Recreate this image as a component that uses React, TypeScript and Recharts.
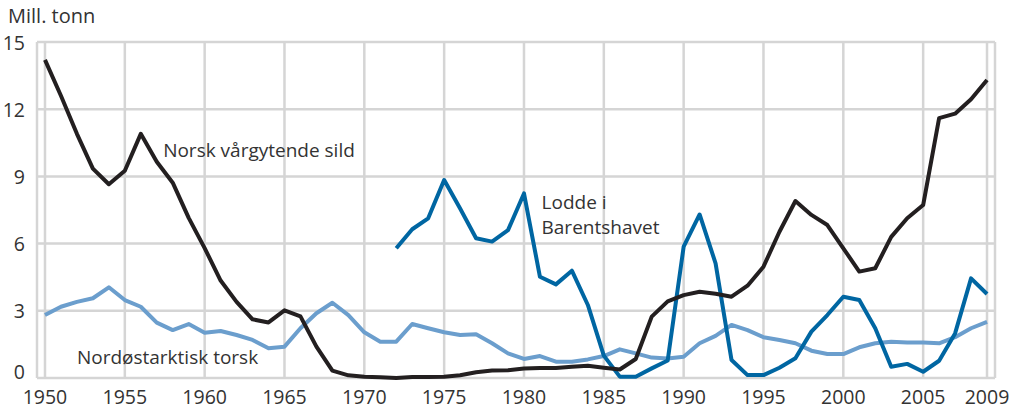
import React from 'react';
import { LineChart, Line, XAxis, YAxis, CartesianGrid, ReferenceDot } from 'recharts';

const years: number[] = [];
for (let y = 1950; y <= 2009; y++) years.push(y);

const sild = [
  14.2, 12.6, 10.9, 9.35, 8.65, 9.25, 10.9, 9.65, 8.72, 7.15,
  5.8, 4.35, 3.4, 2.62, 2.48, 3.02, 2.75, 1.4, 0.33, 0.12,
  0.06, 0.03, 0.0, 0.04, 0.05, 0.06, 0.12, 0.26, 0.33, 0.35,
  0.42, 0.45, 0.45, 0.5, 0.55, 0.46, 0.38, 0.85, 2.74, 3.42,
  3.7, 3.85, 3.76, 3.63, 4.12, 4.97, 6.53, 7.9, 7.28, 6.83,
  5.79, 4.75, 4.9, 6.3, 7.13, 7.72, 11.6, 11.8, 12.44, 13.3,
];

const lodde: (number | null)[] = [
  null, null, null, null, null, null, null, null, null, null,
  null, null, null, null, null, null, null, null, null, null,
  null, null, 5.79, 6.64, 7.13, 8.84, 7.57, 6.24, 6.09, 6.6,
  8.24, 4.52, 4.18, 4.79, 3.26, 1.0, 0.06, 0.06, 0.43, 0.78,
  5.86, 7.3, 5.12, 0.8, 0.13, 0.13, 0.46, 0.88, 2.07, 2.81,
  3.63, 3.48, 2.22, 0.5, 0.63, 0.28, 0.77, 1.99, 4.45, 3.75,
];

const torsk = [
  2.81, 3.18, 3.4, 3.56, 4.05, 3.48, 3.18, 2.47, 2.14, 2.41,
  2.02, 2.1, 1.92, 1.7, 1.33, 1.4, 2.22, 2.89, 3.36, 2.81,
  2.04, 1.62, 1.62, 2.41, 2.22, 2.04, 1.92, 1.95, 1.55, 1.1,
  0.85, 0.98, 0.73, 0.73, 0.83, 0.98, 1.28, 1.1, 0.91, 0.87,
  0.95, 1.55, 1.88, 2.37, 2.14, 1.82, 1.7, 1.55, 1.22, 1.07,
  1.07, 1.37, 1.55, 1.62, 1.59, 1.59, 1.55, 1.82, 2.22, 2.51,
];

const xTicks = [1950, 1955, 1960, 1965, 1970, 1975, 1980, 1985, 1990, 1995, 2000, 2005, 2009];
const yTicks = [0, 3, 6, 9, 12, 15];

const seriesLabels = [
  { text: 'Norsk vårgytende sild', year: 1957.4, value: 10.18 },
  { text: 'Lodde i', year: 1981.1, value: 7.86 },
  { text: 'Barentshavet', year: 1981.1, value: 6.74 },
  { text: 'Nordøstarktisk torsk', year: 1952.0, value: 0.94 },
];

const data = years.map((year, i) => ({ year, sild: sild[i], lodde: lodde[i], torsk: torsk[i] }));

const FONT = '"Open Sans", sans-serif';
const TEXT = '#333333';
const TICK_SIZE = 19.5;
const LABEL_SIZE = 19;

const YTick = (props: any) => {
  const { x, y, payload } = props;
  const dy = payload.value === 0 ? -7 : 0;
  return (
    <text x={x} y={y + dy} textAnchor="end" dominantBaseline="central" fill={TEXT} fontSize={TICK_SIZE} fontFamily={FONT}>
      {payload.value}
    </text>
  );
};

const XTick = (props: any) => {
  const { x, y, payload } = props;
  return (
    <text x={x} y={y + 12.5} textAnchor="middle" fill={TEXT} fontSize={TICK_SIZE} fontFamily={FONT}>
      {payload.value}
    </text>
  );
};

export default function App() {
  return (
    <div style={{ position: 'absolute', left: 0, top: 0, width: 1022, height: 408, background: '#fff', fontFamily: FONT }}>
      <div style={{ position: 'absolute', left: 8, top: 2, fontSize: 20, color: TEXT, fontFamily: FONT, whiteSpace: 'nowrap' }}>Mill. tonn</div>
      <LineChart width={1022} height={408} data={data} margin={{ top: 42, right: 27, bottom: 0, left: 0 }}>
        <CartesianGrid stroke="#d5d5d5" strokeWidth={2.5} />
        <XAxis
          dataKey="year"
          type="number"
          domain={[1949.5, 2009.5]}
          ticks={xTicks}
          interval={0}
          axisLine={false}
          tickLine={false}
          tickMargin={7}
          height={30}
          tick={<XTick />}
        />
        <YAxis
          type="number"
          domain={[0, 15]}
          ticks={yTicks}
          interval={0}
          axisLine={false}
          tickLine={false}
          tickMargin={6}
          width={37}
          tick={<YTick />}
        />
        <Line dataKey="torsk" stroke="#6b9ecd" strokeWidth={4} dot={false} isAnimationActive={false} strokeLinejoin="round" />
        <Line dataKey="lodde" stroke="#0066a2" strokeWidth={4} dot={false} isAnimationActive={false} connectNulls={false} strokeLinejoin="round" />
        <Line dataKey="sild" stroke="#231f20" strokeWidth={4} dot={false} isAnimationActive={false} strokeLinejoin="round" />
        {seriesLabels.map((l) => (
          <ReferenceDot
            key={l.text}
            x={l.year}
            y={l.value}
            r={0}
            fill="none"
            stroke="none"
            label={{ value: l.text, position: 'right', offset: 0, fill: TEXT, fontSize: LABEL_SIZE, fontFamily: FONT }}
          />
        ))}
      </LineChart>
    </div>
  );
}
